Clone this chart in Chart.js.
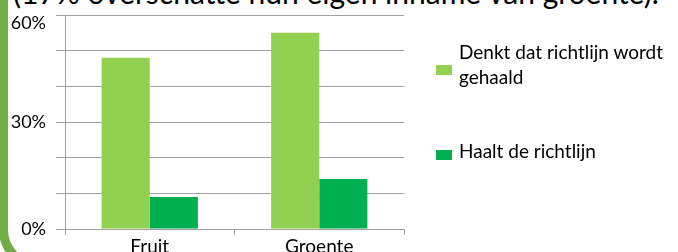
<!DOCTYPE html>
<html>
<head>
<meta charset="utf-8">
<script src="https://cdn.jsdelivr.net/npm/chart.js@4/dist/chart.umd.min.js"></script>
<style>
    html, body { margin: 0; padding: 0; background: #fff; }
    body { width: 678px; height: 252px; position: relative; overflow: hidden; font-family: Lato, sans-serif; }
    #frame {
        position: absolute; left: -1px; top: -20px; width: 720px; height: 290px;
        border-left: 9px solid #70AD47; border-bottom: 9px solid #70AD47;
        border-bottom-left-radius: 40px; box-sizing: border-box;
    }
    #title {
        position: absolute; left: 13px; top: -23px; font-size: 30px; line-height: 30px;
        color: #000; white-space: nowrap;
    }
    #chart { position: absolute; left: 0; top: 0; }
    #legend { position: absolute; left: 436px; top: 0; font-size: 19px; color: #000; }
    .swatch { position: absolute; left: 0; width: 16px; height: 10px; }
    .label { position: absolute; left: 23px; line-height: 25px; white-space: nowrap; }
</style>
</head>
<body>
<div id="frame"></div>
<div id="title">(17% overschatte hun eigen inname van groente).</div>
<canvas id="chart" width="678" height="252"></canvas>
<div id="legend"></div>
<script>
// Data
const categories = ['Fruit', 'Groente'];
const seriesNames = [['Denkt dat richtlijn wordt', 'gehaald'], ['Haalt de richtlijn']];
const thinksMet = [48, 55];
const actuallyMet = [9, 14];
const seriesColors = ['#92D050', '#00B050'];

document.addEventListener('DOMContentLoaded', function() {
    buildLegend();
    drawChart();
});

function buildLegend() {
    const legend = document.getElementById('legend');
    const tops = [39, 138];          // label block tops
    const swatchTops = [65, 150];
    seriesNames.forEach((lines, i) => {
        const sw = document.createElement('div');
        sw.className = 'swatch';
        sw.style.top = swatchTops[i] + 'px';
        sw.style.background = seriesColors[i];
        legend.appendChild(sw);

        const lab = document.createElement('div');
        lab.className = 'label';
        lab.style.top = tops[i] + 'px';
        lab.innerHTML = lines.join('<br>');
        legend.appendChild(lab);
    });
}

function drawChart() {
    const gridColor = '#a0a0a0';
    const ctx = document.getElementById('chart').getContext('2d');
    new Chart(ctx, {
        type: 'bar',
        data: {
            labels: categories,
            datasets: [
                { label: seriesNames[0].join(' '), data: thinksMet, backgroundColor: seriesColors[0] },
                { label: seriesNames[1].join(' '), data: actuallyMet, backgroundColor: seriesColors[1] }
            ]
        },
        options: {
            responsive: false,
            animation: false,
            devicePixelRatio: 1,
            layout: { padding: { top: 15, right: 274, left: 0, bottom: 0 } },
            datasets: { bar: { barPercentage: 1, categoryPercentage: 0.568 } },
            plugins: { legend: { display: false }, tooltip: { enabled: false } },
            scales: {
                x: {
                    grid: { drawOnChartArea: false, color: gridColor, tickLength: 6, offset: true },
                    border: { color: gridColor },
                    ticks: { color: '#000', font: { family: 'Lato', size: 19 }, padding: 0, maxRotation: 0 },
                    afterFit: function(scale) {
                        scale.height = 23;
                        scale.paddingLeft = 0; scale.paddingRight = 0;
                    }
                },
                y: {
                    min: 0,
                    max: 60,
                    grid: { color: gridColor, tickLength: 9 },
                    border: { color: gridColor },
                    ticks: {
                        stepSize: 10,
                        padding: 10,
                        color: '#000',
                        font: { family: 'Lato', size: 18, lineHeight: 0.9 },
                        // top label sits just under its gridline, as in the original
                        callback: v => (v === 60 ? ['', '60%'] : (v % 30 === 0 ? v + '%' : ''))
                    },
                    afterFit: function(scale) {
                        scale.width = 65;
                        scale.paddingTop = 0; scale.paddingBottom = 0;
                    }
                }
            }
        }
    });
}
</script>
</body>
</html>
